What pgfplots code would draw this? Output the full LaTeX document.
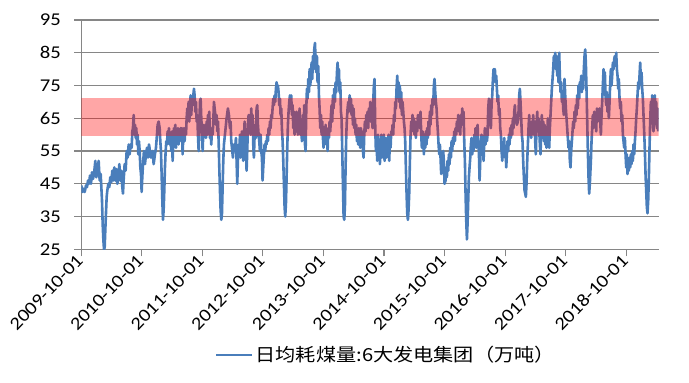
\documentclass[border=0pt]{standalone}
\usepackage{fontspec}
\setmainfont{Carlito}[FakeStretch=1.15]
\newfontfamily\cjk{Noto Sans CJK SC}[FakeStretch=1.12]
\usepackage{pgfplots}
\pgfplotsset{compat=1.18}
\usepackage{pgfplotstable}
\definecolor{serblue}{RGB}{74,126,187}
\definecolor{gridgray}{RGB}{134,134,134}
% x = months since 2009-10-01, v = daily coal consumption (10k t)
\pgfplotstableread{
m v
0 44.5
0.20 42.5
0.47 43.5
0.67 42.5
0.93 44.5
1.13 44
1.33 46
1.53 45
1.72 47.5
1.92 45
2.12 48.5
2.32 46.5
2.52 48
2.78 52
2.98 47
3.18 49
3.44 52
3.64 46
3.84 48
3.97 44
4.10 40
4.23 33
4.37 28
4.50 25
4.63 25.5
4.76 31
4.89 36
5.03 41
5.16 43
5.36 45
5.55 44
5.75 47
5.95 45.5
6.15 49
6.35 46
6.55 50
6.74 46
6.94 49.5
7.14 45
7.34 47
7.54 51
7.73 46
7.93 49
8.13 44
8.26 42
8.39 46
8.59 51
8.79 49
8.99 55
9.19 53
9.39 57
9.58 54
9.78 57
9.98 56
10.11 61
10.24 62
10.38 66
10.51 60
10.64 63
10.77 59
10.90 62
11.04 57
11.17 60
11.30 54
11.43 58
11.57 55
11.70 50
11.83 48
11.96 42.5
12.09 47
12.23 51
12.42 55
12.62 51
12.82 54
13.02 56
13.22 53
13.42 57
13.61 55
13.81 53
14.14 55
14.34 51
14.60 54
14.80 56
15.00 60
15.13 63
15.33 64
15.53 62
15.66 58
15.79 55
15.92 48
16.06 40
16.19 34
16.32 37
16.45 43
16.58 50
16.72 55
16.85 58
16.98 57
17.11 61
17.24 58
17.38 62
17.51 57
17.64 60
17.84 55
17.97 61
18.10 52
18.24 58
18.37 62
18.50 58
18.63 63
18.76 56
18.90 61
19.03 58
19.16 62
19.29 57
19.42 61
19.56 59
19.69 62
19.82 58
19.95 62
20.08 54
20.22 60
20.35 62
20.48 58
20.61 62
20.75 60
20.88 65
21.01 68
21.14 66
21.27 70
21.41 64
21.54 69
21.67 72
21.80 66
21.93 71
22.07 69
22.20 72
22.33 74
22.46 72
22.59 67
22.73 70
22.86 64
22.99 66
23.12 60
23.26 55
23.39 62
23.52 70
23.65 71
23.78 65
23.92 61
24.05 55
24.18 61
24.31 63
24.44 60
24.58 62
24.71 59
24.84 64
24.97 60
25.10 66
25.24 63
25.37 67
25.50 59
25.63 61
25.76 57
25.90 62
26.03 60
26.16 64
26.29 70
26.43 68
26.56 66
26.69 63
26.82 66
26.95 61
27.09 64
27.22 58
27.35 50
27.48 43
27.61 37
27.75 34
27.88 36
28.01 44
28.14 52
28.27 57
28.47 60
28.60 62
28.80 65
29.06 68
29.26 66
29.46 62
29.59 64
29.72 58
29.86 56
30.05 53
30.25 57
30.45 55
30.65 59
30.78 52
30.91 45
31.04 52
31.18 57
31.31 54
31.44 60
31.57 53
31.70 57
31.84 61
31.97 55
32.10 52
32.23 59
32.37 64
32.50 60
32.63 56
32.76 49
32.89 55
33.03 63
33.16 66
33.29 61
33.42 66
33.55 60
33.69 68
33.82 62
33.95 66
34.08 57
34.21 53
34.35 60
34.48 63
34.61 59
34.74 68
34.88 69
35.01 63
35.14 60
35.27 58
35.40 55
35.54 60
35.67 55
35.80 53
35.93 46
36.06 50
36.20 54
36.33 57
36.46 55
36.59 58
36.72 57
36.86 60
36.99 58
37.12 62
37.25 60
37.39 64
37.52 62
37.65 66
37.78 65
37.91 68
38.05 71
38.18 69
38.31 72
38.44 70
38.57 74
38.71 76
38.84 74
38.97 75
39.10 73
39.23 69
39.37 71
39.50 66
39.63 68
39.76 62
39.90 58
40.03 52
40.16 45
40.29 38
40.42 35
40.56 39
40.69 47
40.82 56
40.95 63
41.08 67
41.22 70
41.35 72
41.48 70
41.61 72
41.74 66
41.88 69
42.01 62
42.14 67
42.27 60
42.41 65
42.54 61
42.67 67
42.80 63
42.93 60
43.14 64
43.27 68
43.40 60
43.53 64
43.73 58
43.93 66
44.06 62
44.19 69
44.33 57
44.46 55
44.59 68
44.72 74
44.85 71
44.99 77
45.12 73
45.25 80
45.38 75
45.51 78
45.65 82
45.78 77
45.91 84
46.04 80
46.17 86
46.31 88
46.44 83
46.57 79
46.70 84
46.83 76
46.97 81
47.10 72
47.23 68
47.36 62
47.50 66
47.63 60
47.76 64
47.89 59
48.02 56
48.16 62
48.29 58
48.42 63
48.55 57
48.68 60
48.82 55
48.95 62
49.08 59
49.21 64
49.35 61
49.48 66
49.61 69
49.74 64
49.87 72
50.01 68
50.14 74
50.27 70
50.40 76
50.53 73
50.67 79
50.80 82
50.93 77
51.06 80
51.19 73
51.33 76
51.46 67
51.59 65
51.72 55
51.85 45
51.99 35
52.12 34
52.25 38
52.38 50
52.52 60
52.65 65
52.78 68
52.91 70
53.04 67
53.18 72
53.31 69
53.44 71
53.57 66
53.70 69
53.84 63
53.97 68
54.10 62
54.23 65
54.37 60
54.50 63
54.63 58
54.76 61
54.89 57
55.03 62
55.16 59
55.29 56
55.42 62
55.55 58
55.69 61
55.82 55
55.95 53
56.08 60
56.21 64
56.35 61
56.48 66
56.61 63
56.74 67
56.87 62
57.01 68
57.14 65
57.27 70
57.40 64
57.60 66
57.73 62
57.86 70
57.99 75
58.12 77
58.26 62
58.39 55
58.52 58
58.65 52
58.79 60
58.92 54
59.05 58
59.18 51
59.31 56
59.45 60
59.58 53
59.71 57
59.84 55
59.97 60
60.11 52
60.24 56
60.37 59
60.50 53
60.63 58
60.77 56
60.90 60
61.03 52
61.16 58
61.30 56
61.43 61
61.56 60
61.69 63
61.82 60
61.96 66
62.09 64
62.22 70
62.35 68
62.48 74
62.62 78
62.75 73
62.88 76
63.01 70
63.14 75
63.28 68
63.41 73
63.54 66
63.67 70
63.81 67
63.94 64
64.07 62
64.20 58
64.33 50
64.47 42
64.60 36
64.73 34
64.86 37
64.99 42
65.13 52
65.26 60
65.39 64
65.52 61
65.65 66
65.79 62
65.92 65
66.05 60
66.18 64
66.31 59
66.45 63
66.58 61
66.71 66
66.84 63
66.98 66
67.11 62
67.24 67
67.37 60
67.50 56
67.64 61
67.77 59
67.90 54
68.03 60
68.16 56
68.30 61
68.43 57
68.56 62
68.69 59
68.82 64
68.96 60
69.09 67
69.22 63
69.35 69
69.49 66
69.62 71
69.75 69
69.88 75
70.01 77
70.15 73
70.28 70
70.41 68
70.54 64
70.67 61
70.81 57
70.94 54
71.07 57
71.20 53
71.33 48
71.46 51
71.60 53
71.73 55
71.86 52
71.99 45
72.20 46
72.33 50
72.46 47
72.59 52
72.73 49
72.86 54
72.99 51
73.12 56
73.26 53
73.39 58
73.52 55
73.65 59
73.78 57
73.92 61
74.05 58
74.18 62
74.31 60
74.44 64
74.58 62
74.71 66
74.84 61
74.97 65
75.10 60
75.24 66
75.37 63
75.50 68
75.63 63
75.77 67
75.90 58
76.03 52
76.16 42
76.29 34
76.43 28
76.56 33
76.69 40
76.82 47
76.95 50
77.09 53
77.22 57
77.35 59
77.48 54
77.61 58
77.75 55
77.88 60
78.01 57
78.14 62
78.28 56
78.41 59
78.54 63
78.67 58
78.80 55
78.94 46
79.07 52
79.20 57
79.33 60
79.46 55
79.60 59
79.73 52
79.86 58
79.99 62
80.12 57
80.26 61
80.39 58
80.52 60
80.65 68
80.79 71
80.92 64
81.05 66
81.18 62
81.31 69
81.45 72
81.58 77
81.71 80
81.84 78
81.97 80
82.11 76
82.24 78
82.37 74
82.50 70
82.63 72
82.77 66
82.90 68
83.03 62
83.16 60
83.30 55
83.43 52
83.56 57
83.69 55
83.82 59
83.96 53
84.09 56
84.22 50
84.35 54
84.48 58
84.62 55
84.75 60
84.88 57
85.01 62
85.14 59
85.28 63
85.41 60
85.54 65
85.67 62
85.81 67
85.94 69
86.07 64
86.20 66
86.33 63
86.53 64
86.66 67
86.79 72
86.92 74
87.05 70
87.19 65
87.32 60
87.45 58
87.58 52
87.72 47
87.85 43
87.98 42
88.11 41
88.24 45
88.38 52
88.51 57
88.64 62
88.77 66
88.90 60
89.04 63
89.17 59
89.30 64
89.43 61
89.56 66
89.70 60
89.83 64
89.96 58
90.09 54
90.23 63
90.36 67
90.49 61
90.62 65
90.75 62
90.89 57
91.02 54
91.15 62
91.28 66
91.41 60
91.55 64
91.68 58
91.81 63
91.94 57
92.07 61
92.21 56
92.34 60
92.47 65
92.60 58
92.74 56
92.87 62
93.00 66
93.13 70
93.26 74
93.40 77
93.53 80
93.66 84
93.79 82
93.92 85
94.06 80
94.19 84
94.32 78
94.45 82
94.58 76
94.72 85
94.85 78
94.98 73
95.11 76
95.25 70
95.38 73
95.51 68
95.64 66
95.77 77
95.91 72
96.04 68
96.17 65
96.30 62
96.43 59
96.57 56
96.70 58
96.83 52
96.96 50
97.09 55
97.23 58
97.36 61
97.49 64
97.62 62
97.76 67
97.89 64
98.02 69
98.15 66
98.28 72
98.42 68
98.55 75
98.68 71
98.81 76
98.94 74
99.08 78
99.21 73
99.34 77
99.47 74
99.60 80
99.74 84
99.87 86
100.00 82
100.13 74
100.26 65
100.40 55
100.53 47
100.66 42
100.79 45
101.00 52
101.13 58
101.26 62
101.39 66
101.52 62
101.66 67
101.79 63
101.92 66
102.05 61
102.19 68
102.32 64
102.45 67
102.58 65
102.71 68
102.85 64
102.98 60
103.11 66
103.24 70
103.37 75
103.51 80
103.64 75
103.77 79
103.90 72
104.03 69
104.17 73
104.30 67
104.43 70
104.56 65
104.70 70
104.83 76
104.96 80
105.09 75
105.22 78
105.36 82
105.49 80
105.62 83
105.75 84
105.88 82
106.02 85
106.15 80
106.28 78
106.41 74
106.54 77
106.68 71
106.81 68
106.94 70
107.07 64
107.21 66
107.34 60
107.47 58
107.60 56
107.73 59
107.87 54
108.00 50
108.13 54
108.26 48
108.39 52
108.53 49
108.66 53
108.79 50
108.92 54
109.05 51
109.19 55
109.32 52
109.45 57
109.58 54
109.72 58
109.85 61
109.98 65
110.11 68
110.24 72
110.38 76
110.51 74
110.64 78
110.77 82
110.90 77
111.04 79
111.17 74
111.30 71
111.43 66
111.56 61
111.70 55
111.83 48
111.96 43
112.09 38
112.22 36
112.36 40
112.49 47
112.62 56
112.75 64
112.89 70
113.02 66
113.15 72
113.28 64
113.41 61
113.55 68
113.68 72
113.81 65
113.94 70
114.07 62
114.21 68
114.34 61
}\coal
\begin{document}
\begin{tikzpicture}
\useasboundingbox (-81.3pt,-133.7pt) rectangle (607.7pt,249.3pt);
\begin{axis}[
  at={(0pt,0pt)}, anchor=south west,
  scale only axis, width=577.2pt, height=229.3pt,
  xmin=0, xmax=114.4, ymin=25, ymax=95,
  ytick={25,35,...,95},
  xtick={0,12,...,108},
  xticklabels={2009-10-01,2010-10-01,2011-10-01,2012-10-01,2013-10-01,2014-10-01,2015-10-01,2016-10-01,2017-10-01,2018-10-01},
  axis x line*=bottom, axis y line*=left,
  axis line style={gridgray, line width=1.1pt},
  ymajorgrids, grid style={gridgray, line width=1.1pt},
  tick style={gridgray, line width=1.1pt},
  tick align=outside, major tick length=7pt,
  tick label style={font=\fontsize{18}{20}\selectfont, text=black},
  /pgf/number format/assume math mode=true,
  yticklabel style={xshift=-10pt},
  xticklabel style={rotate=46, anchor=east, inner sep=2pt},
  legend style={at={(0.2314,-0.461)}, anchor=west, draw=none, fill=none,
    font=\cjk\fontsize{18}{20}\selectfont, inner sep=0pt},
  legend image code/.code={\draw[#1] (0pt,0pt) -- (36pt,0pt);},
]
\addplot[serblue, line width=2.6pt, line join=round] table[x=m, y=v] {\coal};
\addlegendentry{日均耗煤量:6大发电集团（万吨）}
\addplot[draw=none, fill=red, fill opacity=0.35, forget plot]
  coordinates {(0,59.7) (114.4,59.7) (114.4,71.2) (0,71.2)} -- cycle;
\end{axis}
\end{tikzpicture}
\end{document}
